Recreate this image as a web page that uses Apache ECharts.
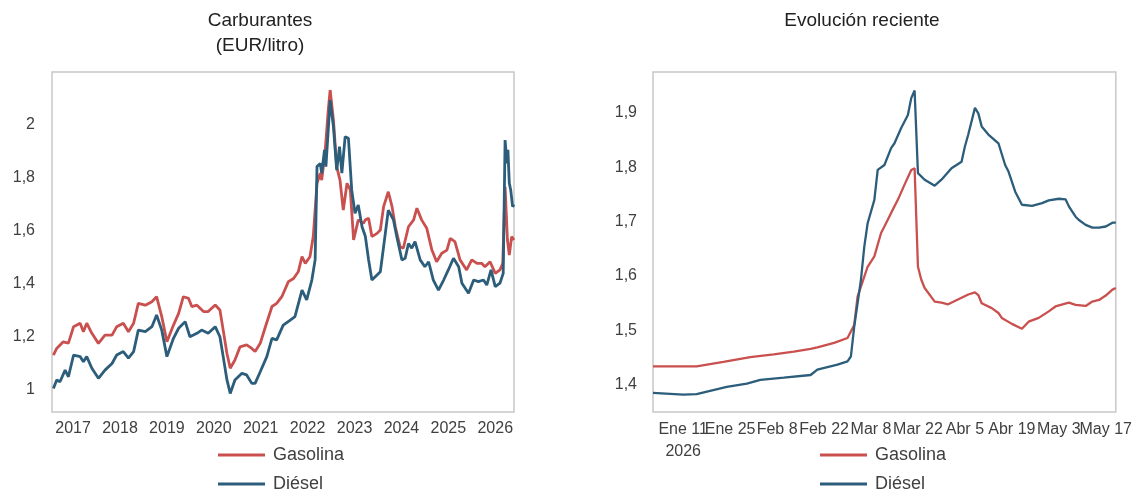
<!DOCTYPE html>
<html>
<head>
<meta charset="utf-8">
<script src="https://cdn.jsdelivr.net/npm/echarts@6/dist/echarts.min.js"></script>
<style>
html,body{margin:0;padding:0;background:#fff;}
#c{width:1135px;height:491px;}
</style>
</head>
<body>
<div id="c"></div>
<script>
// ---- Left chart: fuel prices (EUR/litro), x = decimal year ----
const histGasYears = [2016.58,2016.65,2016.79,2016.90,2017.01,2017.15,2017.22,2017.29,2017.40,2017.54,2017.68,2017.83,2017.93,2018.07,2018.18,2018.29,2018.39,2018.54,2018.68,2018.78,2018.89,2019.00,2019.14,2019.25,2019.35,2019.46,2019.53,2019.64,2019.78,2019.88,2020.03,2020.13,2020.20,2020.28,2020.35,2020.45,2020.56,2020.70,2020.81,2020.88,2020.99,2021.09,2021.24,2021.34,2021.45,2021.59,2021.70,2021.80,2021.88,2021.95,2022.05,2022.12,2022.20,2022.27,2022.30,2022.37,2022.44,2022.48,2022.55,2022.62,2022.69,2022.76,2022.84,2022.91,2022.98,2023.08,2023.19,2023.23,2023.30,2023.37,2023.48,2023.55,2023.62,2023.72,2023.80,2023.87,2023.97,2024.04,2024.15,2024.26,2024.33,2024.43,2024.54,2024.65,2024.75,2024.86,2024.97,2025.04,2025.14,2025.25,2025.39,2025.50,2025.61,2025.71,2025.78,2025.89,2026.00,2026.10,2026.16,2026.21,2026.26,2026.30,2026.35,2026.40];
const histGas = [1.132,1.157,1.182,1.177,1.239,1.252,1.220,1.252,1.214,1.176,1.207,1.207,1.239,1.252,1.220,1.252,1.327,1.320,1.333,1.352,1.277,1.182,1.245,1.289,1.352,1.346,1.315,1.320,1.296,1.296,1.321,1.302,1.226,1.138,1.082,1.113,1.163,1.170,1.157,1.145,1.176,1.233,1.315,1.327,1.352,1.409,1.421,1.446,1.503,1.478,1.503,1.579,1.780,1.818,1.792,1.893,2.057,2.132,2.019,1.843,1.792,1.679,1.780,1.755,1.566,1.642,1.629,1.642,1.648,1.579,1.591,1.604,1.692,1.748,1.692,1.616,1.541,1.535,1.616,1.642,1.686,1.642,1.610,1.528,1.484,1.516,1.528,1.572,1.560,1.491,1.453,1.491,1.478,1.478,1.465,1.484,1.440,1.453,1.478,1.767,1.566,1.509,1.579,1.566];

const histDieYears = [2016.58,2016.65,2016.72,2016.83,2016.90,2017.01,2017.15,2017.22,2017.29,2017.40,2017.54,2017.68,2017.83,2017.93,2018.07,2018.18,2018.29,2018.39,2018.54,2018.68,2018.78,2018.89,2019.00,2019.14,2019.25,2019.39,2019.49,2019.64,2019.74,2019.88,2020.03,2020.13,2020.20,2020.28,2020.35,2020.45,2020.60,2020.70,2020.81,2020.88,2020.99,2021.13,2021.24,2021.34,2021.48,2021.63,2021.73,2021.88,2021.98,2022.09,2022.16,2022.20,2022.27,2022.30,2022.36,2022.39,2022.48,2022.55,2022.62,2022.68,2022.73,2022.80,2022.87,2022.94,2023.01,2023.08,2023.16,2023.23,2023.30,2023.37,2023.48,2023.55,2023.62,2023.72,2023.83,2023.90,2024.01,2024.08,2024.15,2024.22,2024.29,2024.40,2024.50,2024.58,2024.68,2024.79,2024.90,2025.00,2025.11,2025.22,2025.29,2025.43,2025.54,2025.64,2025.75,2025.82,2025.91,2026.00,2026.10,2026.17,2026.21,2026.25,2026.27,2026.30,2026.33,2026.37,2026.40];
const histDie = [1.006,1.038,1.031,1.075,1.050,1.132,1.126,1.107,1.126,1.082,1.044,1.075,1.100,1.132,1.145,1.120,1.145,1.226,1.220,1.239,1.283,1.226,1.126,1.195,1.233,1.258,1.201,1.214,1.226,1.214,1.239,1.201,1.126,1.038,0.987,1.038,1.063,1.057,1.025,1.025,1.069,1.126,1.195,1.189,1.245,1.264,1.277,1.377,1.340,1.415,1.491,1.843,1.855,1.818,1.906,1.843,2.094,1.994,1.830,1.918,1.818,1.956,1.950,1.755,1.667,1.698,1.616,1.580,1.491,1.415,1.434,1.446,1.541,1.679,1.642,1.579,1.491,1.497,1.553,1.535,1.560,1.491,1.465,1.484,1.415,1.377,1.415,1.453,1.497,1.465,1.403,1.365,1.415,1.409,1.415,1.396,1.453,1.390,1.403,1.440,1.943,1.855,1.906,1.780,1.755,1.692,1.700];

const histYearTicks = [2017,2018,2019,2020,2021,2022,2023,2024,2025,2026];
const histValueTicks = [1,1.2,1.4,1.6,1.8,2];

// ---- Right chart: recent evolution (daily, 2026) ----
const recGasDates = ['2026-01-02','2026-01-15','2026-01-23','2026-01-31','2026-02-07','2026-02-13','2026-02-18','2026-02-20','2026-02-25','2026-03-01','2026-03-03','2026-03-04','2026-03-06','2026-03-07','2026-03-09','2026-03-11','2026-03-12','2026-03-14','2026-03-16','2026-03-18','2026-03-20','2026-03-21','2026-03-22','2026-03-23','2026-03-24','2026-03-27','2026-03-29','2026-03-31','2026-04-02','2026-04-04','2026-04-06','2026-04-08','2026-04-09','2026-04-10','2026-04-13','2026-04-15','2026-04-16','2026-04-19','2026-04-22','2026-04-24','2026-04-27','2026-04-30','2026-05-02','2026-05-06','2026-05-08','2026-05-11','2026-05-13','2026-05-15','2026-05-17','2026-05-19','2026-05-20'];
const recGas = [1.434,1.434,1.442,1.451,1.456,1.461,1.466,1.469,1.477,1.486,1.510,1.562,1.599,1.617,1.636,1.679,1.691,1.716,1.740,1.768,1.795,1.798,1.617,1.593,1.578,1.553,1.551,1.548,1.554,1.560,1.566,1.570,1.565,1.550,1.541,1.532,1.523,1.512,1.503,1.516,1.523,1.535,1.544,1.551,1.547,1.545,1.553,1.556,1.564,1.575,1.578];

const recDieDates = ['2026-01-02','2026-01-11','2026-01-15','2026-01-24','2026-01-30','2026-02-03','2026-02-10','2026-02-18','2026-02-20','2026-02-26','2026-03-01','2026-03-02','2026-03-03','2026-03-05','2026-03-06','2026-03-07','2026-03-09','2026-03-10','2026-03-12','2026-03-14','2026-03-15','2026-03-17','2026-03-19','2026-03-20','2026-03-21','2026-03-22','2026-03-24','2026-03-27','2026-03-29','2026-04-01','2026-04-04','2026-04-05','2026-04-06','2026-04-08','2026-04-09','2026-04-10','2026-04-12','2026-04-15','2026-04-17','2026-04-18','2026-04-20','2026-04-22','2026-04-25','2026-04-28','2026-04-30','2026-05-03','2026-05-05','2026-05-06','2026-05-08','2026-05-09','2026-05-11','2026-05-13','2026-05-15','2026-05-17','2026-05-19','2026-05-20'];
const recDie = [1.385,1.382,1.383,1.396,1.402,1.409,1.413,1.418,1.428,1.437,1.443,1.452,1.507,1.593,1.654,1.697,1.740,1.795,1.804,1.835,1.844,1.872,1.896,1.927,1.941,1.789,1.777,1.766,1.777,1.798,1.810,1.838,1.860,1.909,1.899,1.875,1.860,1.844,1.804,1.792,1.755,1.731,1.729,1.734,1.739,1.742,1.741,1.728,1.709,1.703,1.694,1.689,1.689,1.691,1.698,1.698];

const recTickDates = ['2026-01-11','2026-01-25','2026-02-08','2026-02-22','2026-03-08','2026-03-22','2026-04-05','2026-04-19','2026-05-03','2026-05-17'];
const recTickLabels = ['Ene 11\n2026','Ene 25','Feb 8','Feb 22','Mar 8','Mar 22','Abr 5','Abr 19','May 3','May 17'];
const recValueTicks = [1.4,1.5,1.6,1.7,1.8,1.9];

const seriesNames = ['Gasolina', 'Diésel'];

// ---- build ----
const FONT = "'Liberation Sans', Arial, sans-serif";
const TXT = '#404040';
const GAS = '#C9504E';
const DIE = '#2C5D7A';
const COLORS = [GAS, DIE];
const toTs = s => { const p = s.split('-').map(Number); return Date.UTC(p[0], p[1]-1, p[2]); };
const zip = (xs, ys) => xs.map((x, i) => [x, ys[i]]);
const fmtNum = v => Number.isInteger(v) ? String(v) : v.toFixed(1).replace('.', ',');
const recTickTs = recTickDates.map(toTs);
const nearestLabel = v => { let bi = 0, bd = Infinity; recTickTs.forEach((t, i) => { const d = Math.abs(t - v); if (d < bd) { bd = d; bi = i; } }); return bd < 43200000 ? recTickLabels[bi] : ''; };
const recMin = toTs('2026-01-02'), recMax = toTs('2026-05-20');

const legends = [];
[218, 820].forEach(lx => {
  seriesNames.forEach((nm, i) => {
    legends.push({left: lx, top: 446 + i * 29, padding: 0, itemWidth: 47, itemHeight: 3, icon: 'rect',
      selectedMode: false,
      textStyle: {fontSize: 18, color: TXT, fontFamily: FONT, padding: [0,0,0,3]},
      data: [{name: nm, itemStyle: {color: COLORS[i]}}]});
  });
});

// two label layers on the right chart so that adjacent (overlapping) labels are all drawn
const recLabelAxis = parity => ({
  type: 'value', gridIndex: 1, min: recMin, max: recMax, position: 'bottom', offset: 0,
  axisLine: {show: false}, axisTick: {show: false}, splitLine: {show: false},
  axisLabel: {customValues: recTickTs.filter((t, i) => i % 2 === parity), formatter: v => nearestLabel(v),
    showMinLabel: true, showMaxLabel: true, hideOverlap: false,
    fontSize: 16, color: TXT, margin: 7, lineHeight: 22, fontFamily: FONT}
});

const chart = echarts.init(document.getElementById('c'), null, {renderer: 'canvas'});
chart.setOption({
  animation: false,
  backgroundColor: '#ffffff',
  textStyle: {fontFamily: FONT},
  graphic: [
    {type: 'text', x: 260, y: 8, style: {text: 'Carburantes\n(EUR/litro)', font: '19px ' + FONT, fill: '#222', align: 'center', verticalAlign: 'top', lineHeight: 25}},
    {type: 'text', x: 862, y: 8, style: {text: 'Evolución reciente', font: '19px ' + FONT, fill: '#222', align: 'center', verticalAlign: 'top', lineHeight: 25}}
  ],
  grid: [
    {left: 52, top: 72, width: 462, height: 340, show: true, borderColor: '#c8c8c8', borderWidth: 1.5, containLabel: false},
    {left: 653, top: 72, width: 463, height: 340, show: true, borderColor: '#c8c8c8', borderWidth: 1.5, containLabel: false}
  ],
  legend: legends,
  xAxis: [
    {type: 'value', gridIndex: 0, min: 2016.55, max: 2026.40,
     axisLine: {show: false}, axisTick: {show: false}, splitLine: {show: false},
     axisLabel: {customValues: histYearTicks, formatter: v => String(Math.round(v)), fontSize: 16, color: TXT, margin: 9, fontFamily: FONT, showMinLabel: true, showMaxLabel: true}},
    recLabelAxis(0),
    recLabelAxis(1)
  ],
  yAxis: [
    {type: 'value', gridIndex: 0, min: 0.917, max: 2.2,
     axisLine: {show: false}, axisTick: {show: false}, splitLine: {show: false},
     axisLabel: {customValues: histValueTicks, formatter: fmtNum, fontSize: 16, color: TXT, margin: 17, fontFamily: FONT}},
    {type: 'value', gridIndex: 1, min: 1.35, max: 1.975,
     axisLine: {show: false}, axisTick: {show: false}, splitLine: {show: false},
     axisLabel: {customValues: recValueTicks, formatter: fmtNum, fontSize: 16, color: TXT, margin: 16, fontFamily: FONT}}
  ],
  series: [
    {name: 'Gasolina', type: 'line', xAxisIndex: 0, yAxisIndex: 0, data: zip(histGasYears, histGas), showSymbol: false, symbol: 'none', lineStyle: {color: GAS, width: 2.8}, itemStyle: {color: GAS}},
    {name: 'Diésel', type: 'line', xAxisIndex: 0, yAxisIndex: 0, data: zip(histDieYears, histDie), showSymbol: false, symbol: 'none', lineStyle: {color: DIE, width: 2.8}, itemStyle: {color: DIE}},
    {name: 'Gasolina', type: 'line', xAxisIndex: 1, yAxisIndex: 1, data: zip(recGasDates.map(toTs), recGas), showSymbol: false, symbol: 'none', lineStyle: {color: GAS, width: 2.3}, itemStyle: {color: GAS}},
    {name: 'Diésel', type: 'line', xAxisIndex: 1, yAxisIndex: 1, data: zip(recDieDates.map(toTs), recDie), showSymbol: false, symbol: 'none', lineStyle: {color: DIE, width: 2.3}, itemStyle: {color: DIE}}
  ]
});
</script>
</body>
</html>
